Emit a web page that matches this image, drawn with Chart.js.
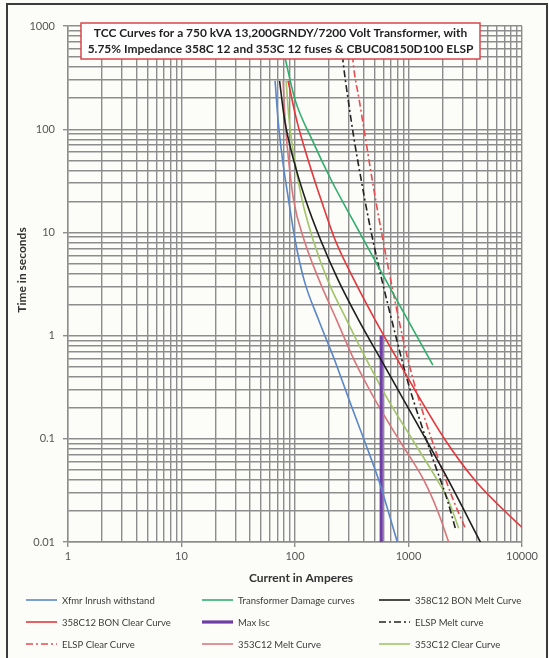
<!DOCTYPE html>
<html>
<head>
<meta charset="utf-8">
<script src="https://cdn.jsdelivr.net/npm/chart.js@4.4.0/dist/chart.umd.min.js"></script>
<style>
html,body{margin:0;padding:0;background:#fcfcf8;}
#wrap{position:relative;width:549px;height:658px;}
canvas{display:block;}
</style>
</head>
<body>
<div id="wrap"><canvas id="c" width="549" height="658"></canvas></div>
<script>
// ---------- text ----------
const chartTitle = [
  "TCC Curves for a 750 kVA 13,200GRNDY/7200 Volt Transformer, with",
  "5.75% Impedance 358C 12 and 353C 12 fuses & CBUC08150D100 ELSP"
];
const xAxisTitle = "Current in Amperes";
const yAxisTitle = "Time in seconds";

// ---------- axes ----------
const xDecades = [1, 10, 100, 1000, 10000];
const xTickLabels = ["1", "10", "100", "1000", "10000"];
const yDecades = [0.01, 0.1, 1, 10, 100, 1000];
const yTickLabels = ["0.01", "0.1", "1", "10", "100", "1000"];

// ---------- series (current in A, time in s) ----------
const seriesNames = [
  "Xfmr Inrush withstand", "Transformer Damage curves", "358C12 BON Melt Curve",
  "358C12 BON Clear Curve", "Max Isc", "ELSP Melt curve",
  "ELSP Clear Curve", "353C12 Melt Curve", "353C12 Clear Curve"
];

const inrushI = [66.8, 70.9, 77.7, 87.8, 100.2, 120.3, 161.6, 223.6, 300.3, 407.4, 547, 796.6];
const inrushT = [294, 123.1, 50.4, 20.6, 8.44, 3.45, 1.414, 0.578, 0.237, 0.0969, 0.0397, 0.01];

const damageI = [75.4, 81.8, 100.2, 141.6, 208.3, 322.4, 504.2, 788.6, 1639];
const damageT = [734.7, 491.6, 192.4, 78.7, 32.2, 13.19, 5.4, 2.21, 0.5175];

const bonMeltI = [73.1, 81, 97.2, 124.1, 168.2, 240.2, 364.1, 575.3, 908.9, 1436, 2245, 4301];
const bonMeltT = [294, 123.1, 50.4, 20.6, 8.44, 3.45, 1.414, 0.578, 0.237, 0.0969, 0.0397, 0.01];

const bonClearI = [86.9, 103.3, 130.5, 170, 225.9, 332.4, 509.3, 804.4, 1284, 2112, 3848, 8586, 10000];
const bonClearT = [294, 123.1, 50.4, 20.6, 8.44, 3.45, 1.414, 0.578, 0.237, 0.0969, 0.0397, 0.0162, 0.0139];

const maxIscI = [575, 575];
const maxIscT = [1.0, 0.01];

const elspMeltI = [262, 265.9, 294.2, 332.4, 383.2, 446.2, 530.3, 643.3, 788.6, 975.9, 1258, 1656, 2200, 2615];
const elspMeltT = [520, 439.7, 192.4, 78.7, 32.2, 13.19, 5.4, 2.21, 0.9045, 0.3702, 0.1515, 0.062, 0.0254, 0.013];

const elspClearI = [322, 325.7, 367.9, 420, 479.1, 552.4, 643.3, 756.9, 899.9, 1103, 1407, 1851, 2486, 3140];
const elspClearT = [520, 439.7, 192.4, 78.7, 32.2, 13.19, 5.4, 2.21, 0.9045, 0.3702, 0.1515, 0.062, 0.0254, 0.0139];

const m353MeltI = [78.5, 81.8, 87.8, 97.2, 120.3, 163.2, 232.9, 332.4, 509.3, 829.3, 1365, 1796, 2259];
const m353MeltT = [294, 123.1, 50.4, 20.6, 8.44, 3.45, 1.414, 0.578, 0.237, 0.0969, 0.0397, 0.0203, 0.01];

const c353ClearI = [83.5, 88.7, 99.2, 115.5, 144.4, 194, 285.4, 428.6, 663.2, 1091, 1796, 2245, 2768];
const c353ClearT = [294, 123.1, 50.4, 20.6, 8.44, 3.45, 1.414, 0.578, 0.237, 0.0969, 0.0397, 0.0254, 0.0136];

// ---------- styles ----------
const pairs = (I, T) => I.map((v, k) => ({ x: v, y: T[k] }));
const styles = [
  { c: '#5b87c8', w: 1.6 },
  { c: '#2fae6c', w: 1.6 },
  { c: '#1e1e1e', w: 1.6 },
  { c: '#e4363b', w: 1.6 },
  { c: '#6e3ea6', w: 3.2, t: 0 },
  { c: '#222222', w: 1.6, d: [7, 3, 2, 3] },
  { c: '#e84b4f', w: 1.6, d: [7, 3, 2, 3] },
  { c: '#d9767b', w: 1.6 },
  { c: '#a2c46a', w: 1.6 }
];
const rawSeries = [
  [inrushI, inrushT], [damageI, damageT], [bonMeltI, bonMeltT],
  [bonClearI, bonClearT], [maxIscI, maxIscT], [elspMeltI, elspMeltT],
  [elspClearI, elspClearT], [m353MeltI, m353MeltT], [c353ClearI, c353ClearT]
];
const datasets = rawSeries.map((s, i) => ({
  label: seriesNames[i],
  data: pairs(s[0], s[1]),
  showLine: true,
  borderColor: styles[i].c,
  backgroundColor: styles[i].c,
  borderWidth: styles[i].w,
  borderDash: styles[i].d || [],
  pointRadius: 0,
  pointHoverRadius: 0,
  fill: false,
  tension: styles[i].t === 0 ? 0 : 0.4,
  cubicInterpolationMode: styles[i].t === 0 ? 'default' : 'monotone'
}));

function makeTicks(decades) {
  const out = [];
  for (let k = 0; k < decades.length - 1; k++) {
    for (let m = 1; m <= 9; m++) {
      out.push({ value: Number((decades[k] * m).toPrecision(6)), major: m === 1 });
    }
  }
  out.push({ value: decades[decades.length - 1], major: true });
  return out;
}
function labelFor(v, decades, labels) {
  for (let k = 0; k < decades.length; k++) {
    if (Math.abs(v - decades[k]) / decades[k] < 1e-6) return labels[k];
  }
  return '';
}

const gridCol = '#8d8d8d';
const tickFont = { family: 'Lato', size: 11 };

const deco = {
  id: 'deco',
  beforeDraw(chart) {
    const ctx = chart.ctx;
    ctx.save();
    ctx.fillStyle = '#fcfcf8';
    ctx.fillRect(0, 0, chart.width, chart.height);
    ctx.restore();
  },
  afterDraw(chart) {
    const ctx = chart.ctx;
    ctx.save();
    // title box
    const bx = 81, by = 23, bw = 399, bh = 36;
    ctx.fillStyle = '#ffffff';
    ctx.fillRect(bx, by, bw, bh);
    ctx.strokeStyle = '#d8474c';
    ctx.lineWidth = 1.5;
    ctx.strokeRect(bx, by, bw, bh);
    ctx.fillStyle = '#1f1f1f';
    ctx.textAlign = 'center';
    ctx.textBaseline = 'middle';
    let fs = 12;
    ctx.font = 'bold ' + fs + 'px Lato';
    const w0 = Math.max(...chartTitle.map(t => ctx.measureText(t).width));
    fs = fs * 386 / w0;
    ctx.font = 'bold ' + fs.toFixed(2) + 'px Lato';
    ctx.fillText(chartTitle[0], bx + bw / 2, by + 10);
    ctx.fillText(chartTitle[1], bx + bw / 2, by + 26.5);

    // axis titles
    ctx.fillStyle = '#333333';
    ctx.font = 'bold 12px Lato';
    ctx.fillText(xAxisTitle, 301, 578);
    ctx.save();
    ctx.translate(22, 270);
    ctx.rotate(-Math.PI / 2);
    ctx.fillText(yAxisTitle, 0, 0);
    ctx.restore();

    // legend
    const cols = [26, 202, 379], rows = [600, 622, 644];
    chart.data.datasets.forEach((ds, i) => {
      const x = cols[i % 3], y = rows[Math.floor(i / 3)];
      ctx.strokeStyle = ds.borderColor;
      ctx.lineWidth = ds.borderWidth;
      ctx.setLineDash(ds.borderDash || []);
      ctx.beginPath();
      ctx.moveTo(x, y);
      ctx.lineTo(x + 31, y);
      ctx.stroke();
      ctx.setLineDash([]);
      ctx.fillStyle = '#3a3a3a';
      ctx.font = '9.5px Lato';
      ctx.textAlign = 'left';
      ctx.fillText(ds.label, x + 36, y + 0.5);
    });

    // outer frame
    ctx.strokeStyle = '#3c3c3c';
    ctx.lineWidth = 2;
    ctx.beginPath();
    ctx.moveTo(7, 658);
    ctx.lineTo(7, 4);
    ctx.lineTo(547, 4);
    ctx.lineTo(547, 658);
    ctx.stroke();
    ctx.restore();
  }
};

new Chart(document.getElementById('c'), {
  type: 'scatter',
  data: { datasets },
  options: {
    responsive: false,
    devicePixelRatio: 1,
    animation: false,
    layout: { padding: { top: 26, right: 27, bottom: 0, left: 0 } },
    plugins: { legend: { display: false }, tooltip: { enabled: false }, title: { display: false } },
    scales: {
      x: {
        type: 'logarithmic', position: 'bottom', min: 1, max: 10000,
        afterBuildTicks: s => { s.ticks = makeTicks(xDecades); },
        afterFit: s => { s.height = 116; },
        ticks: { autoSkip: false, maxRotation: 0, minRotation: 0, padding: 3, color: '#555', font: tickFont,
          callback: v => labelFor(v, xDecades, xTickLabels) },
        grid: { color: gridCol, lineWidth: 1.4, tickLength: 5,
          tickColor: c => (c.tick && c.tick.major) ? gridCol : 'rgba(0,0,0,0)' },
        border: { display: true, color: gridCol, width: 1.4 }
      },
      y: {
        type: 'logarithmic', position: 'left', min: 0.01, max: 1000,
        afterBuildTicks: s => { s.ticks = makeTicks(yDecades); },
        afterFit: s => { s.width = 68; },
        ticks: { autoSkip: false, padding: 8, color: '#555', font: tickFont,
          callback: v => labelFor(v, yDecades, yTickLabels) },
        grid: { color: gridCol, lineWidth: 1.4, tickLength: 5,
          tickColor: c => (c.tick && c.tick.major) ? gridCol : 'rgba(0,0,0,0)' },
        border: { display: true, color: gridCol, width: 1.4 }
      }
    }
  },
  plugins: [deco]
});
</script>
</body>
</html>
